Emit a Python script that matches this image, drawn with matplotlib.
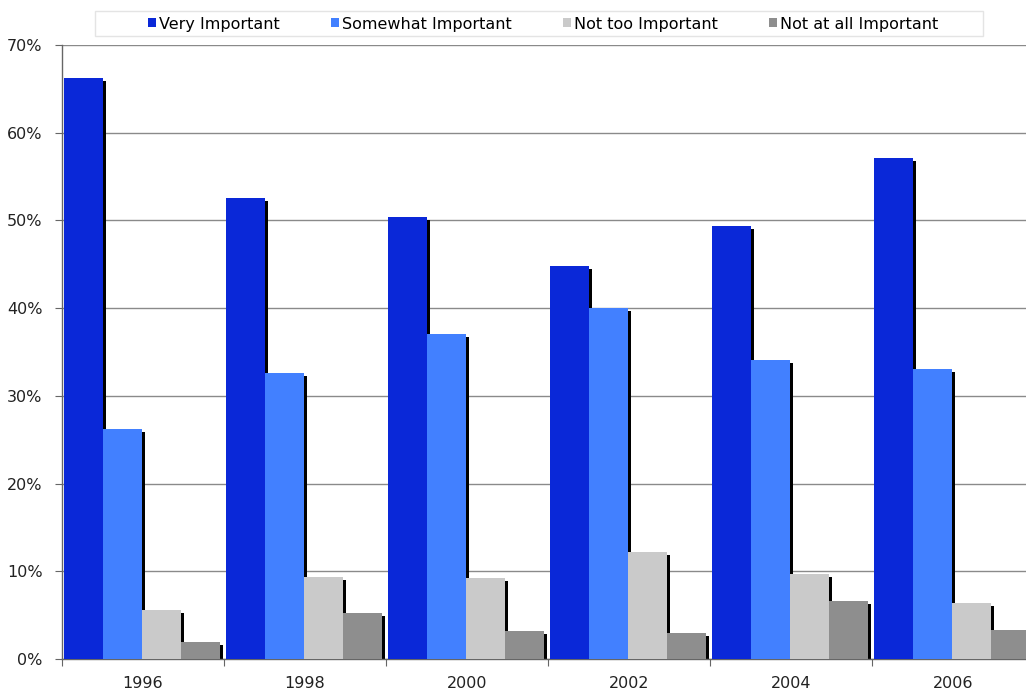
import numpy as np
import matplotlib
matplotlib.use('Agg')
import matplotlib.pyplot as plt
from matplotlib.patches import Patch, Rectangle

# data (percent)
years = ['1996', '1998', '2000', '2002', '2004', '2006']
series = ['Very Important', 'Somewhat Important', 'Not too Important', 'Not at all Important']
very = [66.2, 52.6, 50.4, 44.8, 49.4, 57.1]
somewhat = [26.2, 32.6, 37.0, 40.0, 34.1, 33.1]
not_too = [5.6, 9.4, 9.2, 12.2, 9.7, 6.4]
not_at_all = [1.9, 5.2, 3.2, 3.0, 6.6, 3.3]
colors = ['#0a28d8', '#4280ff', '#cacaca', '#8e8e8e']

plt.rcParams['font.family'] = ['DejaVu Sans']
fs = 11.5
fig = plt.figure(figsize=(10.26, 6.91), dpi=100)
W, H = 1026, 691
# axes: left 62px, 0% at 659px, 70% at 45px, 6 groups of 162px
ax = fig.add_axes([62 / W, (H - 659) / H, 6 * 162 / W, (659 - 45) / H])

all_vals = [very, somewhat, not_too, not_at_all]
x = np.arange(len(years))
bw = 39 / 162
off = 2 / 162
dx = 3 / 162          # shadow shift right
dy = 70 * 3 / 614     # shadow shift down

# shadows first, so the next bar covers them
for i, vals in enumerate(all_vals):
    left = x + off + i * bw + dx
    ax.bar(left, np.array(vals) - dy, width=bw, align='edge', color='black',
           linewidth=0, zorder=2)
for i, vals in enumerate(all_vals):
    left = x + off + i * bw
    ax.bar(left, vals, width=bw, align='edge', color=colors[i], linewidth=0,
           zorder=3)

ax.set_xlim(0, 6)
ax.set_ylim(0, 70)
ax.set_yticks(np.arange(0, 71, 10))
ax.set_yticklabels(['%d%%' % v for v in range(0, 71, 10)], fontsize=fs, color='#222222')
ax.set_xticks(np.arange(0, 7))
ax.set_xticklabels([])
ax.set_xticks(x + 0.5, minor=True)
ax.set_xticklabels(years, minor=True, fontsize=fs, color='#222222')
ax.tick_params(axis='x', which='minor', length=0, pad=12)
ax.tick_params(axis='x', which='major', length=5, color='#666666', direction='out')
ax.tick_params(axis='y', length=5, color='#666666', pad=9)
ax.yaxis.grid(True, color='#8a8a8a', linewidth=1, zorder=1)
ax.set_axisbelow(True)
for s in ['top', 'right']:
    ax.spines[s].set_visible(False)
for s in ['left', 'bottom']:
    ax.spines[s].set_color('#666666')
    ax.spines[s].set_linewidth(1)

# legend box at the top
fig.patches.append(Rectangle((95 / W, 1 - 36 / H), (983 - 95) / W, 25 / H,
                             transform=fig.transFigure, facecolor='white',
                             edgecolor='#e4e4e4', linewidth=1))
handles = [Patch(facecolor=c, edgecolor='none') for c in colors]
fig.legend(handles, series, loc='center', bbox_to_anchor=(543 / W, 1 - 24 / H),
           ncol=4, frameon=False, fontsize=fs, handlelength=0.5,
           handleheight=0.5, handletextpad=0.2, columnspacing=3.2,
           borderpad=0, borderaxespad=0)

fig.savefig('out.png', dpi=100)
